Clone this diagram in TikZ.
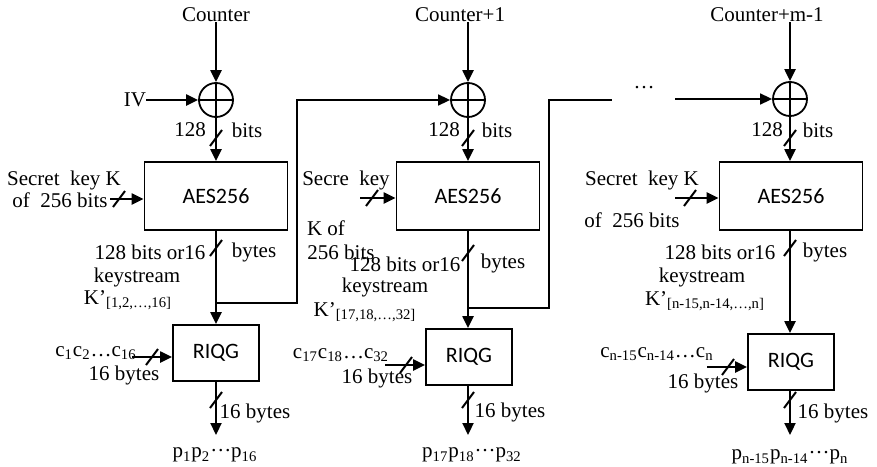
\documentclass[tikz,border=0pt]{standalone}
\usepackage{fontspec}
\setmainfont{Liberation Serif}
\newfontfamily\boxfont{Carlito}
\usetikzlibrary{arrows.meta}

\begin{document}
\begin{tikzpicture}[x=0.5pt,y=-0.5pt,font=\fontsize{10.5}{12}\selectfont,
    arr/.style={-{Triangle[length=6pt,width=5.5pt]},line width=1.1pt},
    wire/.style={line width=0.8pt},
    lbl/.style={inner sep=0pt},
    aesbox/.style={draw,line width=0.9pt,minimum width=71.5pt,minimum height=34pt,inner sep=0pt,font=\boxfont\fontsize{11}{13}\selectfont},
    riqgbox/.style={aesbox,minimum width=43pt,minimum height=28pt},
    xorop/.style={draw,circle,line width=0.9pt,minimum size=17pt,inner sep=0pt,
        path picture={\draw[line width=0.9pt] (path picture bounding box.north) -- (path picture bounding box.south)
            (path picture bounding box.west) -- (path picture bounding box.east);}},
    buscut/.pic={\draw[line width=1pt] (-6,8) -- (6,-8);}]

    % Area del disegno (pixel del riferimento)
    \useasboundingbox (0,0) rectangle (877,466);

    % ---------- Colonna 1 ----------
    \node[lbl] (cnt1) at (216,15) {Counter};
    \node[xorop] (x1) at (216,100) {};
    \node[lbl] (iv) at (135,100) {IV};
    \node[aesbox] (aes1) at (216,196) {AES256};
    \node[riqgbox] (rq1) at (216,353) {RIQG};
    \node[lbl] (p1) at (215,455) {p\textsubscript{1}p\textsubscript{2}···p\textsubscript{16}};

    \draw[arr] (cnt1.south) -- (x1.north);
    \draw[arr] (iv.east) -- (x1.west);
    \draw[arr] (x1) -- (aes1);
    \draw[arr] (aes1) -- (rq1);
    \coordinate (out1) at (216,435);
    \draw[arr] (rq1) -- (out1);

    % Etichette e tagli del bus
    \node[lbl] at (190,130) {128};
    \node[lbl] at (247,130) {bits};
    \pic at (216,138) {buscut};
    \node[lbl] at (64,180) {Secret\ \ key K};
    \node[lbl] at (60,200) {of\ \ 256 bits};
    \coordinate (k1) at (110,199);
    \draw[arr] (k1) -- (k1 -| aes1.west);
    \pic at (119,199) {buscut};
    \node[lbl] at (150,252) {128 bits or16};
    \node[lbl] at (254,252) {bytes};
    \pic at (216,248) {buscut};
    \node[lbl] at (137,277) {keystream};
    \node[lbl] at (128,300) {K’\textsubscript{[1,2,…,16]}};
    \node[lbl] (c1) at (96,353) {c\textsubscript{1}c\textsubscript{2}…c\textsubscript{16}};
    \coordinate (cin1) at (132,357);
    \draw[arr] (cin1) -- (cin1 -| rq1.west);
    \pic at (152,357) {buscut};
    \node[lbl] at (124,375) {16 bytes};
    \pic at (216,400) {buscut};
    \node[lbl] at (255,413) {16 bytes};

    % Retroazione verso la colonna 2
    \coordinate (fb1) at (216,303);
    \coordinate (up1) at (297,303);

    % ---------- Colonna 2 ----------
    \node[lbl] (cnt2) at (460,15) {Counter+1};
    \node[xorop] (x2) at (468,100) {};
    \node[aesbox] (aes2) at (468,196) {AES256};
    \node[riqgbox] (rq2) at (469,357) {RIQG};
    \node[lbl] (p2) at (472,455) {p\textsubscript{17}p\textsubscript{18}···p\textsubscript{32}};

    \draw[arr] (cnt2.south -| x2.north) -- (x2.north);
    \draw[arr,line width=0.8pt] (fb1) -- (up1) |- (x2.west);
    \draw[arr] (x2) -- (aes2);
    \draw[arr] (aes2.south) -- (aes2.south |- rq2.north);
    \coordinate (out2) at (468,435);
    \draw[arr] (out2 |- rq2.south) -- (out2);

    \node[lbl] at (444,130) {128};
    \node[lbl] at (497,130) {bits};
    \pic at (468,138) {buscut};
    \node[lbl] at (346,180) {Secre\ \ key};
    \node[lbl] at (326,228) {K of};
    \node[lbl] at (341,252) {256 bits};
    \coordinate (k2) at (360,198);
    \draw[arr] (k2) -- (k2 -| aes2.west);
    \pic at (372,198) {buscut};
    \node[lbl] at (405,264) {128 bits or16};
    \node[lbl] at (503,263) {bytes};
    \pic at (468,253) {buscut};
    \node[lbl] at (385,287) {keystream};
    \node[lbl] at (365,312) {K’\textsubscript{[17,18,…,32]}};
    \node[lbl] (c2) at (341,355) {c\textsubscript{17}c\textsubscript{18}…c\textsubscript{32}};
    \coordinate (cin2) at (385,365);
    \draw[arr] (cin2) -- (cin2 -| rq2.west);
    \pic at (406,365) {buscut};
    \node[lbl] at (377,378) {16 bytes};
    \pic at (468,400) {buscut};
    \node[lbl] at (510,412) {16 bytes};

    % Retroazione interrotta dai puntini
    \coordinate (fb2) at (468,308);
    \coordinate (up2) at (549,308);
    \coordinate (gap2) at (612,100);
    \draw[wire] (fb2) -- (up2) |- (gap2);
    \node[lbl] (dots) at (644,88) {…};
    \coordinate (gap3) at (675,99);

    % ---------- Colonna 3 ----------
    \node[lbl] (cnt3) at (767,15) {Counter+m-1};
    \node[xorop] (x3) at (790,99) {};
    \node[aesbox] (aes3) at (791,196) {AES256};
    \node[riqgbox] (rq3) at (791,362) {RIQG};
    \node[lbl] (p3) at (790,457) {p\textsubscript{n-15}p\textsubscript{n-14}···p\textsubscript{n}};

    \draw[arr] (cnt3.south -| x3.north) -- (x3.north);
    \draw[arr,line width=0.8pt] (gap3) -- (x3.west);
    \draw[arr] (x3.south) -- (x3.south |- aes3.north);
    \draw[arr] (x3.south |- aes3.south) -- (x3.south |- rq3.north);
    \coordinate (out3) at (790,435);
    \draw[arr] (out3 |- rq3.south) -- (out3);

    \node[lbl] at (767,130) {128};
    \node[lbl] at (818,130) {bits};
    \pic at (790,138) {buscut};
    \node[lbl] at (642,180) {Secret\ \ key K};
    \node[lbl] at (632,220) {of\ \ 256 bits};
    \coordinate (k3) at (675,198);
    \draw[arr] (k3) -- (k3 -| aes3.west);
    \pic at (690,198) {buscut};
    \node[lbl] at (720,252) {128 bits or16};
    \node[lbl] at (825,252) {bytes};
    \pic at (790,248) {buscut};
    \node[lbl] at (702,277) {keystream};
    \node[lbl] at (705,301) {K’\textsubscript{[n-15,n-14,…,n]}};
    \node[lbl] (c3) at (657,354) {c\textsubscript{n-15}c\textsubscript{n-14}…c\textsubscript{n}};
    \coordinate (cin3) at (707,367);
    \draw[arr] (cin3) -- (cin3 -| rq3.west);
    \pic at (728,367) {buscut};
    \node[lbl] at (703,383) {16 bytes};
    \pic at (790,400) {buscut};
    \node[lbl] at (833,413) {16 bytes};

\end{tikzpicture}
\end{document}
